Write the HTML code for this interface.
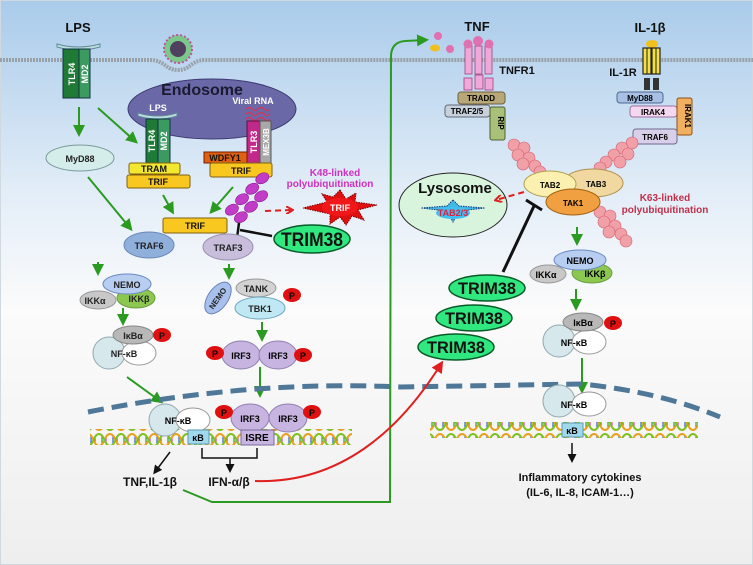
<!DOCTYPE html>
<html><head><meta charset="utf-8"><style>
html,body{margin:0;padding:0;background:#fff}
svg{display:block}
text{font-family:"Liberation Sans",sans-serif;font-weight:bold}
</style></head><body>
<svg width="753" height="565" viewBox="0 0 753 565" xmlns="http://www.w3.org/2000/svg">
<defs>
<linearGradient id="bg" x1="0" y1="0" x2="0" y2="1">
<stop offset="0" stop-color="#a9cbea"/><stop offset="0.35" stop-color="#e4eef8"/><stop offset="0.55" stop-color="#fbfbfb"/><stop offset="1" stop-color="#eeeeee"/></linearGradient>
<marker id="ga" markerWidth="6" markerHeight="6" refX="4" refY="3" orient="auto" markerUnits="strokeWidth"><path d="M0,0 L6,3 L0,6 z" fill="#2a9a20"/></marker>
<marker id="ka" markerWidth="6" markerHeight="6" refX="4" refY="3" orient="auto" markerUnits="strokeWidth"><path d="M0,0 L6,3 L0,6 z" fill="#111"/></marker>
<marker id="ra" markerWidth="6" markerHeight="6" refX="4" refY="3" orient="auto" markerUnits="strokeWidth"><path d="M0,0 L6,3 L0,6 z" fill="#e02020"/></marker>
<marker id="ro" markerWidth="8" markerHeight="8" refX="6" refY="4" orient="auto" markerUnits="userSpaceOnUse"><path d="M0,0 L7,4 L0,8" fill="none" stroke="#e02020" stroke-width="2"/></marker>
<pattern id="dna" width="22" height="16" patternUnits="userSpaceOnUse">
<line x1="3" y1="3" x2="3" y2="13" stroke="#3060d0" stroke-width="1.2"/>
<line x1="7" y1="5" x2="7" y2="11" stroke="#e03030" stroke-width="1.2"/>
<line x1="14" y1="3" x2="14" y2="13" stroke="#30a030" stroke-width="1.2"/>
<line x1="18" y1="5" x2="18" y2="11" stroke="#d040d0" stroke-width="1.2"/>
<path d="M0,2 C5.5,2 5.5,14 11,14 C16.5,14 16.5,2 22,2" fill="none" stroke="#e8a020" stroke-width="2"/>
<path d="M0,14 C5.5,14 5.5,2 11,2 C16.5,2 16.5,14 22,14" fill="none" stroke="#80c020" stroke-width="2"/>
</pattern>
<g id="ub"><ellipse cx="0" cy="0" rx="7" ry="5" fill="#c23cc8" stroke="#8a1a90" stroke-width="0.6"/></g>
<g id="ubp"><circle cx="0" cy="0" r="6" fill="#f2a0a8" stroke="#d06070" stroke-width="0.6"/></g>
</defs>
<rect x="0" y="0" width="753" height="565" fill="url(#bg)"/>
<rect x="0.5" y="0.5" width="752" height="564" fill="none" stroke="#d0d8e0"/>

<path d="M0,60 L150,60 C165,60 165,70 178,70 C191,70 191,60 205,60 L753,60" fill="none" stroke="#9aa0a8" stroke-width="4" stroke-dasharray="2 1"/>

<text x="78" y="32" font-size="13" text-anchor="middle" fill="#111">LPS</text>
<path d="M57,44 Q78,50 100,44 L100,47 Q78,53 57,47z" fill="#b8e0e0" stroke="#689"/>
<rect x="63" y="49" width="16" height="49" fill="#1f7a35" stroke="#134"/>
<rect x="79" y="49" width="11" height="49" fill="#3a9a60" stroke="#134"/>
<text transform="translate(75,74) rotate(-90)" font-size="9" fill="#fff" text-anchor="middle">TLR4</text>
<text transform="translate(88,74) rotate(-90)" font-size="9" fill="#fff" text-anchor="middle">MD2</text>

<circle cx="178" cy="49" r="14" fill="#7cc88a" stroke="#c050a0" stroke-width="2" stroke-dasharray="2 2"/>
<circle cx="178" cy="49" r="8" fill="#504060"/>

<ellipse cx="212" cy="109" rx="84" ry="30" fill="#6b68a8" stroke="#3c3a70"/>
<text x="202" y="95" font-size="16" fill="#1a1a30" text-anchor="middle">Endosome</text>
<text x="158" y="111" font-size="9" fill="#fff" text-anchor="middle">LPS</text>
<text x="253" y="104" font-size="9" fill="#fff" text-anchor="middle">Viral RNA</text>
<path d="M246,109 q3,-3 6,0 t6,0 t6,0 t6,0 M246,114 q3,-3 6,0 t6,0 t6,0 t6,0 M246,119 q3,-3 6,0 t6,0 t6,0 t6,0" fill="none" stroke="#e03050" stroke-width="1.2"/>
<path d="M138,113 Q158,119 177,113 L177,116 Q158,122 138,116z" fill="#b8e0e0" stroke="#689"/>
<rect x="146" y="119" width="12" height="44" fill="#1f7a35" stroke="#134"/>
<rect x="158" y="119" width="12" height="44" fill="#3a9a60" stroke="#134"/>
<text transform="translate(155,141) rotate(-90)" font-size="9" fill="#fff" text-anchor="middle">TLR4</text>
<text transform="translate(167,141) rotate(-90)" font-size="9" fill="#fff" text-anchor="middle">MD2</text>
<rect x="129" y="163" width="51" height="11" rx="2" fill="#f2e830" stroke="#806010"/>
<text x="154" y="172" font-size="9" text-anchor="middle" fill="#111">TRAM</text>
<rect x="127" y="175" width="63" height="13" rx="2" fill="#f8c820" stroke="#806010"/>
<text x="158" y="185" font-size="9" text-anchor="middle" fill="#111">TRIF</text>
<rect x="247" y="121" width="13" height="42" fill="#c0288a" stroke="#601040"/>
<rect x="260" y="121" width="11" height="42" fill="#a8a8a8" stroke="#555"/>
<text transform="translate(257,142) rotate(-90)" font-size="9" fill="#fff" text-anchor="middle">TLR3</text>
<text transform="translate(269,142) rotate(-90)" font-size="8" fill="#fff" text-anchor="middle">MEX3B</text>
<rect x="204" y="152" width="43" height="11" fill="#e06010" stroke="#702000"/>
<text x="225" y="161" font-size="9" text-anchor="middle" fill="#111">WDFY1</text>
<rect x="210" y="163" width="62" height="14" rx="2" fill="#f8c820" stroke="#806010"/>
<text x="241" y="174" font-size="9" text-anchor="middle" fill="#111">TRIF</text>

<ellipse cx="80" cy="158" rx="34" ry="13" fill="#d4ecea" stroke="#7a9a9a"/>
<text x="80" y="162" font-size="9" text-anchor="middle" fill="#222">MyD88</text>

<g stroke="#2a9a20" stroke-width="2" fill="none" marker-end="url(#ga)">
<line x1="79" y1="107" x2="79" y2="133"/>
<line x1="98" y1="108" x2="135" y2="141"/>
<line x1="88" y1="177" x2="130" y2="228"/>
<line x1="163" y1="195" x2="172" y2="211"/>
<line x1="233" y1="187" x2="212" y2="211"/>
<line x1="98" y1="262" x2="98" y2="272"/>
<line x1="123" y1="308" x2="123" y2="322"/>
<line x1="229" y1="264" x2="229" y2="276"/>
<line x1="262" y1="322" x2="262" y2="338"/>
<line x1="260" y1="367" x2="260" y2="394"/>
<line x1="127" y1="377" x2="160" y2="401"/>
<line x1="577" y1="227" x2="577" y2="242"/>
<line x1="576" y1="289" x2="576" y2="307"/>
<line x1="582" y1="358" x2="582" y2="390"/>
</g>

<rect x="163" y="218" width="64" height="15" rx="2" fill="#f8c820" stroke="#806010"/>
<text x="195" y="229" font-size="9" text-anchor="middle" fill="#111">TRIF</text>
<g transform="rotate(-30 250 205)">
<use href="#ub" x="232" y="200"/><use href="#ub" x="246" y="196"/><use href="#ub" x="260" y="192"/><use href="#ub" x="274" y="188"/>
<use href="#ub" x="236" y="211"/><use href="#ub" x="250" y="207"/><use href="#ub" x="264" y="203"/>
</g>
<line x1="265" y1="211" x2="292" y2="210" stroke="#e02020" stroke-width="2" stroke-dasharray="6 4" marker-end="url(#ro)"/>
<path d="M340,190 L346,199 L356,193 L355,202 L377,205 L358,210 L364,220 L352,216 L346,225 L340,217 L330,224 L330,214 L303,208 L327,202 L322,194 L333,197z" fill="#e01010" stroke="#700" stroke-width="1" stroke-dasharray="1.5 1"/>
<ellipse cx="340" cy="207" rx="18" ry="9" fill="#f01818"/>
<text x="340" y="211" font-size="9" fill="#fff" text-anchor="middle">TRIF</text>
<text x="335" y="176" font-size="10" fill="#d030c0" text-anchor="middle" font-weight="normal">K48-linked</text>
<text x="330" y="187" font-size="10" fill="#d030c0" text-anchor="middle" font-weight="normal">polyubiquitination</text>
<line x1="272" y1="236" x2="240" y2="230" stroke="#111" stroke-width="2.5"/>
<line x1="239" y1="223" x2="237" y2="238" stroke="#111" stroke-width="2.5"/>
<ellipse cx="312" cy="239" rx="38" ry="14" fill="#30e880" stroke="#0a5a28" stroke-width="1.5"/>
<text x="312" y="246" font-size="19" fill="#111" text-anchor="middle" textLength="62" lengthAdjust="spacingAndGlyphs">TRIM38</text>

<ellipse cx="149" cy="245" rx="25" ry="13" fill="#90b0dc" stroke="#6a88b8"/>
<text x="149" y="249" font-size="9" text-anchor="middle" fill="#222">TRAF6</text>
<ellipse cx="228" cy="247" rx="25" ry="13" fill="#c8bedb" stroke="#9a90b0"/>
<text x="228" y="251" font-size="9" text-anchor="middle" fill="#222">TRAF3</text>

<ellipse cx="98" cy="300" rx="18" ry="9" fill="#c8c8c8" stroke="#999"/>
<ellipse cx="136" cy="298" rx="19" ry="10" fill="#8cc850" stroke="#6a9a40"/>
<ellipse cx="127" cy="284" rx="24" ry="10" fill="#b8cef0" stroke="#6a8ac0"/>
<text x="127" y="288" font-size="9" text-anchor="middle" fill="#222">NEMO</text>
<text x="95" y="304" font-size="9" text-anchor="middle" fill="#222">IKKα</text>
<text x="139" y="302" font-size="9" text-anchor="middle" fill="#222">IKKβ</text>
<circle cx="109" cy="353" r="16" fill="#d6e8ec" stroke="#90a8b0"/>
<ellipse cx="139" cy="353" rx="17" ry="12" fill="#fff" stroke="#999"/>
<ellipse cx="133" cy="335" rx="20" ry="9" fill="#b8b8b8" stroke="#888"/>
<text x="133" y="339" font-size="9" text-anchor="middle" fill="#222">IκBα</text>
<ellipse cx="162" cy="335" rx="9" ry="7" fill="#e01010"/>
<text x="162" y="339" font-size="9" text-anchor="middle" fill="#111">P</text>
<text x="124" y="357" font-size="9" text-anchor="middle" fill="#222">NF-κB</text>

<ellipse cx="256" cy="288" rx="20" ry="9" fill="#d2d2d2" stroke="#999"/>
<ellipse cx="260" cy="308" rx="25" ry="11" fill="#bfe8f4" stroke="#70a8c0"/>
<ellipse cx="218" cy="298" rx="10" ry="18" transform="rotate(35 218 298)" fill="#a8c0ec" stroke="#6a80b8"/>
<text transform="translate(220,300) rotate(-55)" font-size="8" text-anchor="middle" fill="#222">NEMO</text>
<text x="256" y="292" font-size="9" text-anchor="middle" fill="#222">TANK</text>
<text x="260" y="312" font-size="9" text-anchor="middle" fill="#222">TBK1</text>
<ellipse cx="292" cy="295" rx="9" ry="7" fill="#e01010"/><text x="292" y="299" font-size="9" text-anchor="middle">P</text>
<ellipse cx="241" cy="355" rx="19" ry="14" fill="#c8b4e0" stroke="#9080b0"/>
<ellipse cx="278" cy="355" rx="19" ry="14" fill="#c8b4e0" stroke="#9080b0"/>
<text x="241" y="359" font-size="9" text-anchor="middle">IRF3</text><text x="278" y="359" font-size="9" text-anchor="middle">IRF3</text>
<ellipse cx="215" cy="353" rx="9" ry="7" fill="#e01010"/><text x="215" y="357" font-size="9" text-anchor="middle">P</text>
<ellipse cx="303" cy="355" rx="9" ry="7" fill="#e01010"/><text x="303" y="359" font-size="9" text-anchor="middle">P</text>

<path d="M88,412 Q250,380 400,387 L582,384 Q660,392 720,417" fill="none" stroke="#4f7898" stroke-width="5" stroke-dasharray="16 8"/>

<rect x="90" y="429" width="262" height="16" fill="url(#dna)"/>
<rect x="430" y="422" width="268" height="16" fill="url(#dna)"/>

<circle cx="165" cy="420" r="16" fill="#d6e8ec" stroke="#90a8b0"/>
<ellipse cx="193" cy="420" rx="17" ry="12" fill="#fff" stroke="#999"/>
<text x="178" y="424" font-size="9" text-anchor="middle">NF-κB</text>
<rect x="188" y="430" width="21" height="14" fill="#a0d8ec" stroke="#5a9ab0"/>
<text x="198" y="441" font-size="9" text-anchor="middle">κB</text>
<ellipse cx="250" cy="418" rx="19" ry="14" fill="#c8b4e0" stroke="#9080b0"/>
<ellipse cx="288" cy="418" rx="19" ry="14" fill="#c8b4e0" stroke="#9080b0"/>
<text x="250" y="422" font-size="9" text-anchor="middle">IRF3</text><text x="288" y="422" font-size="9" text-anchor="middle">IRF3</text>
<ellipse cx="224" cy="412" rx="9" ry="7" fill="#e01010"/><text x="224" y="416" font-size="9" text-anchor="middle">P</text>
<ellipse cx="312" cy="412" rx="9" ry="7" fill="#e01010"/><text x="312" y="416" font-size="9" text-anchor="middle">P</text>
<rect x="241" y="430" width="33" height="15" fill="#c8b4e0" stroke="#7a6aa0"/>
<text x="257" y="441" font-size="10" text-anchor="middle">ISRE</text>
<path d="M202,448 L202,458 L257,458 L257,448" fill="none" stroke="#111" stroke-width="1.5"/>
<line x1="230" y1="458" x2="230" y2="470" stroke="#111" stroke-width="1.5" marker-end="url(#ka)"/>
<line x1="170" y1="452" x2="155" y2="472" stroke="#111" stroke-width="1.5" marker-end="url(#ka)"/>
<text x="150" y="486" font-size="12" text-anchor="middle" fill="#111">TNF,IL-1β</text>
<text x="229" y="486" font-size="12" text-anchor="middle" fill="#111">IFN-α/β</text>

<path d="M183,490 L212,502 L390,502 L391,55 Q392,42 405,41 L425,40" fill="none" stroke="#2a9a20" stroke-width="2" marker-end="url(#ga)"/>
<path d="M255,481 C340,484 400,430 441,364" fill="none" stroke="#e02020" stroke-width="2" marker-end="url(#ra)"/>

<text x="477" y="31" font-size="13" text-anchor="middle" fill="#111">TNF</text>
<circle cx="438" cy="36" r="4" fill="#e070b0"/><ellipse cx="435" cy="48" rx="5" ry="3.5" fill="#f0c020"/><circle cx="450" cy="49" r="4" fill="#e070b0"/>
<g fill="#f0a8d8" stroke="#a04080" stroke-width="0.8">
<rect x="465" y="46" width="7" height="28"/><rect x="475" y="46" width="7" height="28"/><rect x="485" y="46" width="7" height="28"/>
<rect x="464" y="78" width="8" height="12"/><rect x="475" y="75" width="8" height="14"/><rect x="485" y="78" width="8" height="12"/>
</g>
<circle cx="468" cy="44" r="4.5" fill="#e070b0"/><circle cx="478" cy="41" r="5" fill="#e070b0"/><circle cx="489" cy="44" r="4.5" fill="#e070b0"/>
<text x="517" y="74" font-size="11" text-anchor="middle" fill="#111">TNFR1</text>
<rect x="458" y="92" width="47" height="12" rx="3" fill="#b8a878" stroke="#706040"/>
<text x="481" y="101" font-size="8" text-anchor="middle">TRADD</text>
<rect x="445" y="105" width="45" height="12" rx="3" fill="#c8d0dc" stroke="#606878"/>
<text x="467" y="114" font-size="8" text-anchor="middle">TRAF2/5</text>
<rect x="490" y="107" width="15" height="33" rx="2" fill="#a8c078" stroke="#506030"/>
<text transform="translate(498,123) rotate(90)" font-size="8" text-anchor="middle">RIP</text>

<text x="650" y="32" font-size="13" text-anchor="middle" fill="#111">IL-1β</text>
<ellipse cx="652" cy="44" rx="6" ry="4" fill="#f0c020"/>
<rect x="643" y="48" width="8" height="26" fill="#f4e040" stroke="#222" stroke-width="1.2"/>
<rect x="652" y="48" width="8" height="26" fill="#f4e040" stroke="#222" stroke-width="1.2"/>
<line x1="647" y1="48" x2="647" y2="74" stroke="#222"/><line x1="656" y1="48" x2="656" y2="74" stroke="#222"/>
<rect x="644" y="78" width="6" height="12" fill="#333"/><rect x="653" y="78" width="6" height="12" fill="#333"/>
<text x="623" y="76" font-size="11" text-anchor="middle" fill="#111">IL-1R</text>
<rect x="617" y="92" width="46" height="11" rx="3" fill="#a8c0e4" stroke="#506890"/>
<text x="640" y="101" font-size="8" text-anchor="middle">MyD88</text>
<rect x="630" y="106" width="47" height="11" rx="3" fill="#f4d8f0" stroke="#a070a0"/>
<text x="653" y="115" font-size="8" text-anchor="middle">IRAK4</text>
<rect x="677" y="98" width="15" height="37" rx="2" fill="#f0b060" stroke="#905010"/>
<text transform="translate(685,116) rotate(90)" font-size="8" text-anchor="middle">IRAK1</text>
<rect x="633" y="129" width="44" height="15" rx="3" fill="#d8d0e8" stroke="#706890"/>
<text x="655" y="140" font-size="8" text-anchor="middle">TRAF6</text>

<use href="#ubp" x="514" y="145"/><use href="#ubp" x="524" y="148"/><use href="#ubp" x="518" y="155"/><use href="#ubp" x="529" y="158"/><use href="#ubp" x="523" y="164"/><use href="#ubp" x="535" y="166"/><use href="#ubp" x="540" y="172"/>
<use href="#ubp" x="632" y="143"/><use href="#ubp" x="622" y="148"/><use href="#ubp" x="628" y="154"/><use href="#ubp" x="614" y="155"/><use href="#ubp" x="620" y="162"/><use href="#ubp" x="606" y="162"/><use href="#ubp" x="600" y="168"/>
<use href="#ubp" x="600" y="212"/><use href="#ubp" x="610" y="216"/><use href="#ubp" x="604" y="222"/><use href="#ubp" x="615" y="226"/><use href="#ubp" x="609" y="232"/><use href="#ubp" x="621" y="234"/><use href="#ubp" x="626" y="241"/>

<ellipse cx="593" cy="183" rx="30" ry="14" fill="#f0d8a0" stroke="#b09050"/>
<ellipse cx="550" cy="184" rx="26" ry="13" fill="#fcf0b0" stroke="#b0a050"/>
<text x="550" y="188" font-size="8" text-anchor="middle">TAB2</text>
<text x="596" y="187" font-size="8" text-anchor="middle">TAB3</text>
<ellipse cx="573" cy="202" rx="27" ry="13" fill="#f0a040" stroke="#a06010"/>
<text x="573" y="206" font-size="8" text-anchor="middle">TAK1</text>
<text x="665" y="201" font-size="10" text-anchor="middle" fill="#c0304a" font-weight="normal">K63-linked</text>
<text x="665" y="213" font-size="10" text-anchor="middle" fill="#c0304a" font-weight="normal">polyubiquitination</text>

<ellipse cx="453" cy="205" rx="54" ry="32" fill="#d8f4dc" stroke="#222"/>
<text x="455" y="193" font-size="15" text-anchor="middle" fill="#111">Lysosome</text>
<path d="M453,200 L459,206 L485,208 L459,211 L453,222 L447,211 L421,208 L447,206z" fill="#40b8e8" stroke="#1a3a80" stroke-dasharray="1.5 1"/>
<ellipse cx="453" cy="213" rx="17" ry="6" fill="#40c0f0"/>
<text x="453" y="216" font-size="9" text-anchor="middle" fill="#e02040">TAB2/3</text>
<line x1="524" y1="192" x2="496" y2="200" stroke="#e02020" stroke-width="2" stroke-dasharray="6 4" marker-end="url(#ro)"/>
<line x1="503" y1="272" x2="534" y2="206" stroke="#111" stroke-width="3"/>
<line x1="526" y1="200" x2="542" y2="210" stroke="#111" stroke-width="3"/>

<g fill="#30e880" stroke="#0a5a28" stroke-width="1.5">
<ellipse cx="487" cy="288" rx="38" ry="13"/><ellipse cx="474" cy="318" rx="38" ry="13"/><ellipse cx="456" cy="347" rx="38" ry="13"/></g>
<g font-size="17" text-anchor="middle" fill="#111"><text x="487" y="294" textLength="58" lengthAdjust="spacingAndGlyphs">TRIM38</text><text x="474" y="324" textLength="58" lengthAdjust="spacingAndGlyphs">TRIM38</text><text x="456" y="353" textLength="58" lengthAdjust="spacingAndGlyphs">TRIM38</text></g>

<ellipse cx="548" cy="274" rx="18" ry="9" fill="#c8c8c8" stroke="#999"/>
<ellipse cx="592" cy="273" rx="20" ry="10" fill="#8cc850" stroke="#6a9a40"/>
<ellipse cx="580" cy="260" rx="26" ry="10" fill="#b8cef0" stroke="#6a8ac0"/>
<text x="580" y="264" font-size="9" text-anchor="middle">NEMO</text>
<text x="546" y="278" font-size="9" text-anchor="middle">IKKα</text>
<text x="595" y="277" font-size="9" text-anchor="middle">IKKβ</text>
<circle cx="559" cy="341" r="16" fill="#d6e8ec" stroke="#90a8b0"/>
<ellipse cx="589" cy="342" rx="17" ry="12" fill="#fff" stroke="#999"/>
<ellipse cx="583" cy="322" rx="20" ry="9" fill="#b8b8b8" stroke="#888"/>
<text x="583" y="326" font-size="9" text-anchor="middle">IκBα</text>
<ellipse cx="613" cy="323" rx="9" ry="7" fill="#e01010"/><text x="613" y="327" font-size="9" text-anchor="middle">P</text>
<text x="574" y="346" font-size="9" text-anchor="middle">NF-κB</text>
<circle cx="559" cy="401" r="16" fill="#d6e8ec" stroke="#90a8b0"/>
<ellipse cx="589" cy="404" rx="17" ry="12" fill="#fff" stroke="#999"/>
<text x="574" y="408" font-size="9" text-anchor="middle">NF-κB</text>
<rect x="562" y="423" width="21" height="14" fill="#a0d8ec" stroke="#5a9ab0"/>
<text x="572" y="434" font-size="9" text-anchor="middle">κB</text>
<line x1="572" y1="443" x2="572" y2="460" stroke="#111" stroke-width="1.5" marker-end="url(#ka)"/>
<text x="580" y="481" font-size="11" text-anchor="middle" fill="#111">Inflammatory cytokines</text>
<text x="580" y="496" font-size="11" text-anchor="middle" fill="#111">(IL-6, IL-8, ICAM-1…)</text>
</svg>
</body></html>
